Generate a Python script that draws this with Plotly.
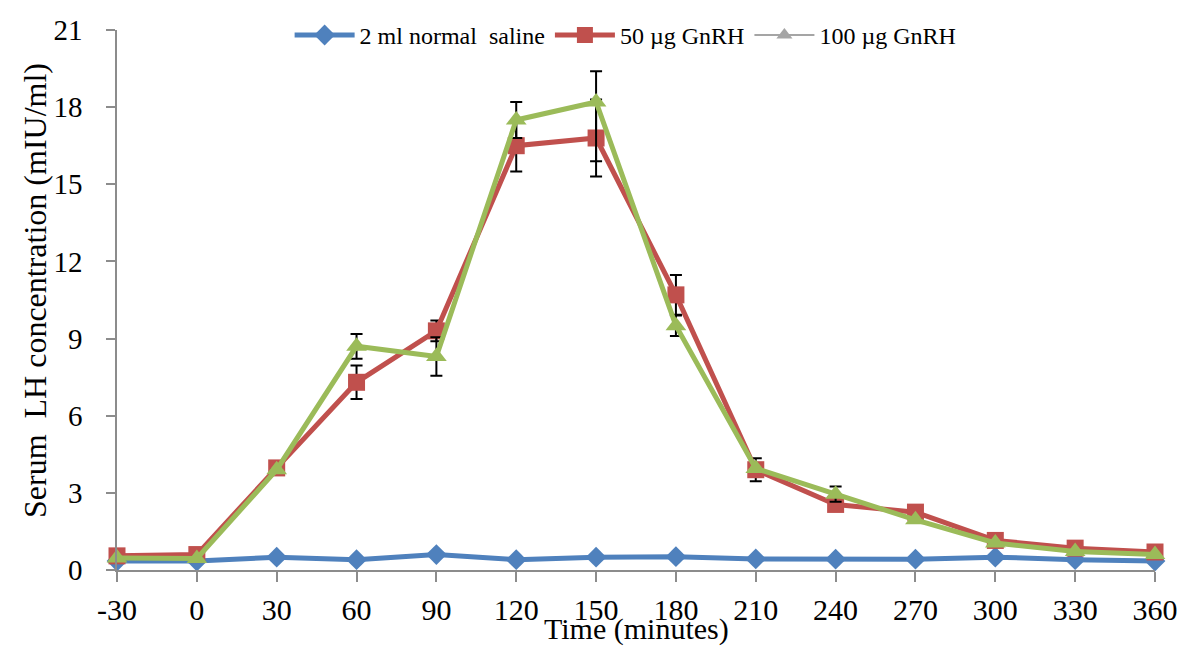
import plotly.graph_objects as go

time_min = [-30, 0, 30, 60, 90, 120, 150, 180, 210, 240, 270, 300, 330, 360]
saline = [0.35, 0.35, 0.5, 0.4, 0.6, 0.4, 0.5, 0.52, 0.43, 0.42, 0.42, 0.5, 0.4, 0.35]
gnrh50 = [0.55, 0.6, 3.97, 7.3, 9.3, 16.5, 16.8, 10.7, 3.9, 2.55, 2.25, 1.15, 0.85, 0.7]
gnrh50_err_plus = [0, 0, 0, 0.65, 0.4, 1.0, 1.5, 0.77, 0.45, 0, 0, 0, 0, 0]
gnrh50_err_minus = [0, 0, 0, 0.65, 0.4, 1.0, 1.5, 0.77, 0.45, 0, 0, 0, 0, 0]
gnrh100 = [0.47, 0.45, 3.9, 8.7, 8.3, 17.5, 18.2, 9.5, 3.95, 2.95, 1.95, 1.05, 0.72, 0.6]
gnrh100_err_plus = [0, 0, 0, 0.48, 0.75, 0.7, 1.2, 0.4, 0, 0.3, 0, 0, 0, 0]
gnrh100_err_minus = [0, 0, 0, 0.48, 0.75, 0.7, 2.3, 0.4, 0, 0.3, 0, 0, 0, 0]
y_ticks = [0, 3, 6, 9, 12, 15, 18, 21]

BLUE = "#4F81BD"
RED = "#C0504D"
GREEN = "#9BBB59"
GRAY = "#A5A5A5"
FONT = "Liberation Serif"

fig = go.Figure()

fig.add_trace(go.Scatter(
    x=time_min, y=saline, name="2 ml normal  saline", mode="lines+markers",
    line=dict(color=BLUE, width=5), marker=dict(symbol="diamond", size=16, color=BLUE),
    cliponaxis=False))

err_style = dict(type="data", symmetric=False, color="black", thickness=2, width=6)

fig.add_trace(go.Scatter(
    x=time_min, y=gnrh50, name="50 µg GnRH", mode="lines+markers",
    line=dict(color=RED, width=5), marker=dict(symbol="square", size=17, color=RED),
    error_y=dict(array=gnrh50_err_plus, arrayminus=gnrh50_err_minus, **err_style),
    cliponaxis=False))

fig.add_trace(go.Scatter(
    x=time_min, y=gnrh100, name="100 µg GnRH", mode="lines+markers",
    line=dict(color=GREEN, width=5), marker=dict(symbol="triangle-up", size=18, color=GREEN),
    error_y=dict(array=gnrh100_err_plus, arrayminus=gnrh100_err_minus, **err_style),
    showlegend=False, cliponaxis=False))

# legend entry for the third series is shown in gray in the original
fig.add_trace(go.Scatter(
    x=[None], y=[None], name="100 µg GnRH", mode="lines+markers",
    line=dict(color=GRAY, width=2), marker=dict(symbol="triangle-up", size=14, color=GRAY)))

fig.update_layout(
    width=1186, height=647,
    margin=dict(l=109, r=39, t=22, b=85, autoexpand=False),
    paper_bgcolor="white", plot_bgcolor="white",
    font=dict(family=FONT, color="black"),
    showlegend=True,
    legend=dict(orientation="h", x=0.49, xanchor="center", y=0.99, yanchor="middle",
                font=dict(family=FONT, size=24), bgcolor="rgba(0,0,0,0)",
                itemwidth=60, tracegroupgap=0),
    xaxis=dict(range=[-30, 360], tickmode="array", tickvals=time_min,
               ticktext=[str(t) for t in time_min],
               showgrid=False, zeroline=False, showline=True, linecolor="#8C8C8C", linewidth=1.5,
               ticks="outside", ticklen=10, tickcolor="#8C8C8C", tickwidth=1.5,
               ticklabelstandoff=2,
               tickfont=dict(family=FONT, size=30)),
    yaxis=dict(range=[0, 21], tickmode="array", tickvals=y_ticks,
               showgrid=False, zeroline=False, showline=True, linecolor="#8C8C8C", linewidth=1.5,
               ticks="outside", ticklen=9, tickcolor="#8C8C8C", tickwidth=1.5,
               ticklabelstandoff=18,
               tickfont=dict(family=FONT, size=29)),
    annotations=[
        dict(text="Time (minutes)", xref="paper", yref="paper", x=0.5, y=0,
             xanchor="center", yanchor="middle", yshift=-59, showarrow=False,
             font=dict(family=FONT, size=30)),
        dict(text="Serum  LH concentration (mIU/ml)", xref="paper", yref="paper",
             x=0, y=0.5, xanchor="center", yanchor="middle", xshift=-82, yshift=9,
             textangle=-90, showarrow=False, font=dict(family=FONT, size=32)),
    ],
)

fig.write_html("out.html")
